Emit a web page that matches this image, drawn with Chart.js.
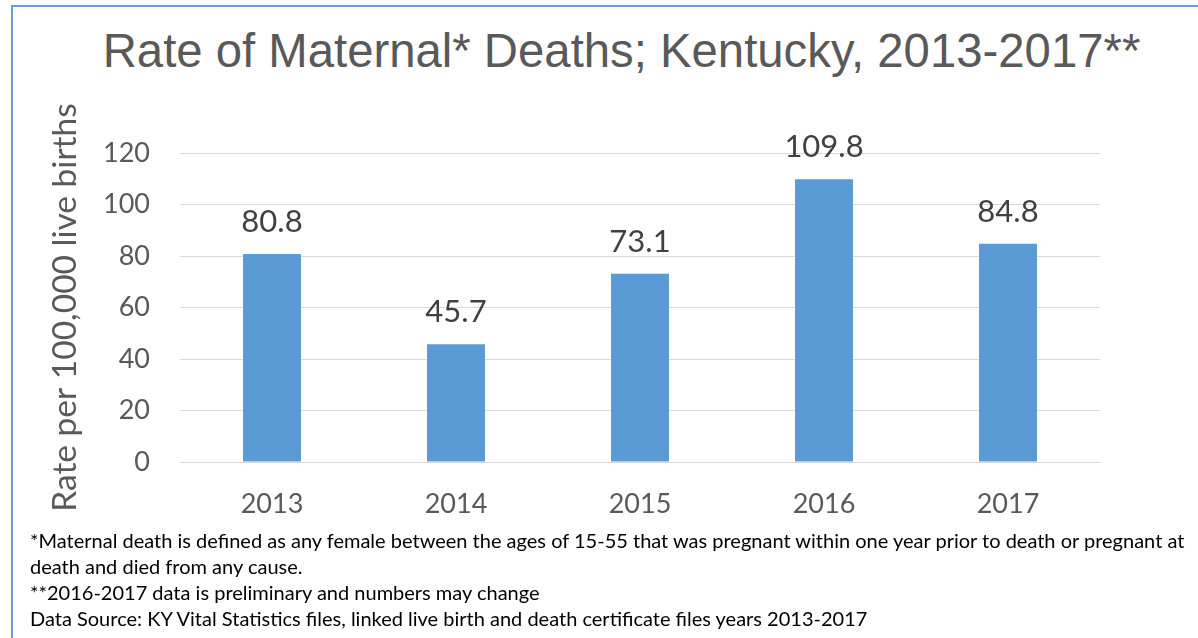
<!DOCTYPE html>
<html>
<head>
<meta charset="utf-8">
<script src="https://cdn.jsdelivr.net/npm/chart.js@4"></script>
<style>
  html, body { margin: 0; padding: 0; background: #fff; overflow: hidden; }
  #page { position: relative; width: 1198px; height: 638px; }
  #frame { position: absolute; left: 11px; top: 5px; width: 1200px; height: 700px;
           border-left: 2px solid #6a9fd8; border-top: 2px solid #6a9fd8; }
  #title { position: absolute; left: 0; width: 1243px; top: 27px; text-align: center;
           font: 47.3px/47px "Liberation Sans", Arial, sans-serif; color: #595959; white-space: nowrap; }
  #chartBox { position: absolute; left: 0; top: 0; width: 1198px; height: 545px; }
  #notes { position: absolute; left: 30px; top: 527px; font: 20px/26px Lato, sans-serif; color: #000; white-space: nowrap; }
</style>
</head>
<body>
<div id="page">
  <div id="frame"></div>
  <div id="title">Rate of Maternal* Deaths; Kentucky, 2013-2017**</div>
  <div id="chartBox"><canvas id="chart" width="1198" height="545"></canvas></div>
  <div id="notes">
    <div>*Maternal death is defined as any female between the ages of 15-55 that was pregnant within one year prior to death or pregnant at</div>
    <div>death and died from any cause.</div>
    <div>**2016-2017 data is preliminary and numbers may change</div>
    <div>Data Source: KY Vital Statistics files, linked live birth and death certificate files years 2013-2017</div>
  </div>
</div>
<script>
const years = ['2013', '2014', '2015', '2016', '2017'];
const rates = [80.8, 45.7, 73.1, 109.8, 84.8];
const yAxisLabel = 'Rate per 100,000 live births';

// value labels above each bar
const barLabels = {
    id: 'barLabels',
    afterDatasetsDraw(chart) {
        const ctx = chart.ctx;
        const meta = chart.getDatasetMeta(0);
        ctx.save();
        ctx.font = '31px Lato, sans-serif';
        ctx.fillStyle = '#404040';
        ctx.textAlign = 'center';
        ctx.textBaseline = 'alphabetic';
        meta.data.forEach((bar, i) => {
            ctx.fillText(rates[i].toFixed(1), bar.x, bar.y - 22);
        });
        ctx.restore();
    }
};

new Chart(document.getElementById('chart'), {
    type: 'bar',
    data: {
        labels: years,
        datasets: [{
            data: rates,
            backgroundColor: '#5b9bd5',
            borderWidth: 0,
            categoryPercentage: 1,
            barPercentage: 0.315
        }]
    },
    options: {
        responsive: false,
        animation: false,
        layout: {
            padding: { top: 153, right: 98, bottom: 0, left: 0 }
        },
        plugins: {
            legend: { display: false },
            tooltip: { enabled: false }
        },
        scales: {
            x: {
                grid: { display: false, drawTicks: false },
                border: { color: '#d9d9d9', width: 1 },
                ticks: {
                    color: '#595959',
                    font: { family: 'Lato', size: 27 },
                    padding: 26
                },
                afterFit(scale) { scale.height = 83; }
            },
            y: {
                min: 0,
                max: 120,
                grid: { color: '#d9d9d9', lineWidth: 1, drawTicks: false },
                border: { display: false },
                ticks: {
                    stepSize: 20,
                    color: '#595959',
                    font: { family: 'Lato', size: 27 },
                    padding: 30
                },
                title: {
                    display: true,
                    text: yAxisLabel,
                    color: '#595959',
                    font: { family: 'Lato', size: 33.5 },
                    padding: { top: 45, bottom: 0 }
                },
                afterFit(scale) { scale.width = 180; }
            }
        }
    },
    plugins: [barLabels]
});
</script>
</body>
</html>
